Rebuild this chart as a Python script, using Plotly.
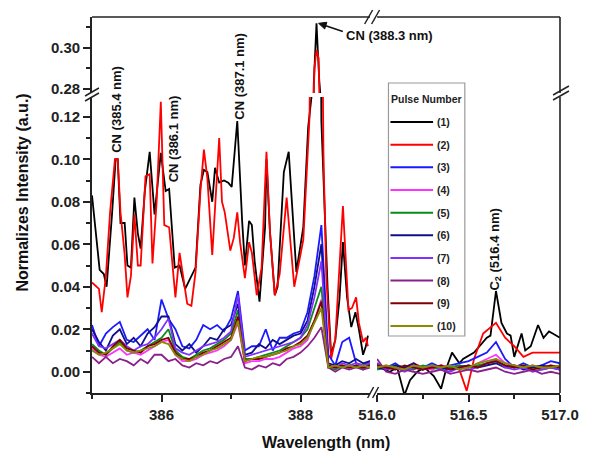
import plotly.graph_objects as go

FONT = "Arial, 'Liberation Sans', sans-serif"

pulse_labels = ["(1)", "(2)", "(3)", "(4)", "(5)", "(6)", "(7)", "(8)", "(9)", "(10)"]
line_colors = ["#000000", "#ff0000", "#1a1aff", "#ff33ff", "#0a8a1a",
               "#10108a", "#8030ff", "#8a208a", "#800000", "#8a8a00"]

# ---------------- pulse 1 and 2 (left segment, CN band) ----------------
wl_p1_left = [385.00, 385.07, 385.11, 385.17, 385.21, 385.29, 385.34, 385.37, 385.41, 385.47,
              385.51, 385.56, 385.61, 385.66, 385.70, 385.76, 385.83, 385.90, 385.99, 386.06,
              386.11, 386.19, 386.26, 386.34, 386.43, 386.49, 386.56, 386.61, 386.66, 386.73,
              386.77, 386.83, 386.90, 386.96, 387.01, 387.09, 387.16, 387.20, 387.26, 387.30,
              387.34, 387.41, 387.49, 387.51, 387.56, 387.63, 387.67, 387.76, 387.83, 387.94,
              388.04, 388.11, 388.16, 388.19, 388.23, 388.27, 388.30, 388.34, 388.39, 388.44,
              388.50, 388.56, 388.61, 388.67, 388.73, 388.79, 388.84, 388.90, 388.94, 388.97]
int_p1_left = [0.083, 0.062, 0.048, 0.046, 0.040, 0.075, 0.100, 0.100, 0.070, 0.070,
               0.050, 0.049, 0.082, 0.065, 0.058, 0.085, 0.1035, 0.074, 0.103, 0.085,
               0.086, 0.049, 0.050, 0.039, 0.045, 0.049, 0.088, 0.095, 0.094, 0.080,
               0.096, 0.089, 0.090, 0.089, 0.087, 0.118, 0.071, 0.050, 0.071, 0.069,
               0.052, 0.033, 0.068, 0.100, 0.066, 0.036, 0.040, 0.094, 0.1035, 0.047,
               0.068, 0.115, 0.130, 0.282, 0.312, 0.284, 0.118, 0.081, 0.039, 0.008,
               0.015, 0.034, 0.061, 0.035, 0.021, 0.028, 0.020, 0.008, 0.012, 0.017]

wl_p2_left = [385.00, 385.06, 385.10, 385.14, 385.20, 385.26, 385.33, 385.37, 385.41, 385.47,
              385.51, 385.56, 385.61, 385.66, 385.70, 385.77, 385.83, 385.87, 385.93, 385.99,
              386.04, 386.11, 386.20, 386.26, 386.33, 386.37, 386.43, 386.49, 386.56, 386.61,
              386.66, 386.73, 386.83, 386.87, 386.91, 386.99, 387.04, 387.09, 387.13, 387.20,
              387.26, 387.30, 387.37, 387.44, 387.51, 387.56, 387.63, 387.70, 387.80, 387.91,
              388.04, 388.13, 388.17, 388.20, 388.23, 388.26, 388.29, 388.33, 388.37, 388.44,
              388.50, 388.56, 388.61, 388.69, 388.74, 388.80, 388.84, 388.90, 388.94, 388.97]
int_p2_left = [0.042, 0.040, 0.039, 0.028, 0.045, 0.075, 0.100, 0.100, 0.075, 0.055,
               0.035, 0.045, 0.074, 0.050, 0.050, 0.092, 0.093, 0.051, 0.080, 0.127,
               0.069, 0.068, 0.035, 0.056, 0.042, 0.032, 0.031, 0.047, 0.085, 0.1045,
               0.091, 0.055, 0.110, 0.080, 0.075, 0.057, 0.063, 0.075, 0.061, 0.044,
               0.061, 0.056, 0.036, 0.049, 0.1035, 0.066, 0.036, 0.046, 0.082, 0.040,
               0.062, 0.120, 0.250, 0.290, 0.299, 0.295, 0.250, 0.103, 0.045, 0.006,
               0.015, 0.050, 0.078, 0.029, 0.030, 0.035, 0.023, 0.014, 0.016, 0.012]

# ---------------- pulse 1 and 2 (right segment, C2 band) ----------------
wl_p1_right = [516.00, 516.04, 516.07, 516.11, 516.15, 516.18, 516.22, 516.26, 516.31, 516.35,
               516.38, 516.41, 516.45, 516.47, 516.53, 516.56, 516.60, 516.62, 516.65, 516.68,
               516.71, 516.73, 516.75, 516.79, 516.81, 516.84, 516.88, 516.91, 516.94, 516.96,
               517.00]
int_p1_right = [0.004, 0.001, 0.000, 0.002, -0.011, -0.004, 0.000, 0.002, -0.002, -0.008,
                0.002, 0.009, 0.004, 0.006, 0.009, 0.012, 0.016, 0.017, 0.038, 0.023,
                0.018, 0.017, 0.007, 0.018, 0.010, 0.012, 0.022, 0.016, 0.019, 0.018,
                0.016]

wl_p2_right = [516.00, 516.05, 516.10, 516.15, 516.20, 516.25, 516.30, 516.35, 516.40, 516.45,
               516.49, 516.53, 516.58, 516.65, 516.70, 516.75, 516.80, 516.85, 516.90, 516.95,
               517.00]
int_p2_right = [0.003, 0.001, 0.003, 0.002, 0.004, 0.002, 0.001, 0.003, 0.002, 0.001,
                -0.009, 0.006, 0.018, 0.023, 0.016, 0.012, 0.007, 0.009, 0.009, 0.009,
                0.009]

# ---------------- pulses 3-10 ----------------
wl_grid_left = [385.0, 385.1, 385.2, 385.3, 385.4, 385.5, 385.6, 385.7, 385.8, 385.9,
                386.0, 386.1, 386.2, 386.3, 386.4, 386.5, 386.6, 386.7, 386.8, 386.9,
                387.0, 387.1, 387.2, 387.3, 387.4, 387.5, 387.6, 387.7, 387.8, 387.9,
                388.0, 388.1, 388.2, 388.3, 388.4, 388.5, 388.6, 388.7, 388.8, 388.9,
                389.0]
int_p3_left = [0.022, 0.012, 0.018, 0.021, 0.0235, 0.015, 0.014, 0.017, 0.020, 0.015,
               0.034, 0.025, 0.020, 0.012, 0.011, 0.015, 0.022, 0.020, 0.022, 0.019,
               0.025, 0.038, 0.010, 0.012, 0.012, 0.020, 0.010, 0.016, 0.016, 0.018,
               0.019, 0.028, 0.045, 0.069, 0.008, 0.003, 0.014, 0.016, 0.004, 0.003,
               0.005]
int_p4_left = [0.011, 0.008, 0.007, 0.009, 0.011, 0.008, 0.009, 0.008, 0.010, 0.012,
               0.014, 0.015, 0.008, 0.005, 0.005, 0.006, 0.008, 0.009, 0.010, 0.012,
               0.015, 0.023, 0.004, 0.005, 0.005, 0.006, 0.006, 0.007, 0.009, 0.011,
               0.012, 0.015, 0.024, 0.034, 0.002, 0.002, 0.003, 0.002, 0.003, 0.002,
               0.003]
int_p5_left = [0.013, 0.010, 0.008, 0.011, 0.014, 0.010, 0.009, 0.010, 0.012, 0.014,
               0.016, 0.020, 0.010, 0.007, 0.006, 0.008, 0.010, 0.011, 0.013, 0.015,
               0.018, 0.029, 0.006, 0.006, 0.007, 0.008, 0.009, 0.010, 0.012, 0.014,
               0.016, 0.020, 0.030, 0.040, 0.002, 0.001, 0.003, 0.002, 0.003, 0.001,
               0.004]
int_p6_left = [0.020, 0.014, 0.010, 0.017, 0.020, 0.013, 0.016, 0.012, 0.018, 0.021,
               0.026, 0.026, 0.013, 0.010, 0.013, 0.009, 0.012, 0.016, 0.015, 0.020,
               0.022, 0.032, 0.008, 0.009, 0.013, 0.011, 0.015, 0.013, 0.015, 0.017,
               0.018, 0.024, 0.040, 0.060, 0.004, 0.003, 0.005, 0.004, 0.006, 0.004,
               0.005]
int_p7_left = [0.018, 0.012, 0.011, 0.013, 0.015, 0.012, 0.010, 0.012, 0.013, 0.016,
               0.020, 0.025, 0.011, 0.009, 0.008, 0.010, 0.012, 0.013, 0.014, 0.016,
               0.019, 0.036, 0.007, 0.008, 0.009, 0.010, 0.011, 0.012, 0.013, 0.014,
               0.016, 0.022, 0.035, 0.052, 0.003, 0.002, 0.004, 0.003, 0.004, 0.003,
               0.004]
int_p8_left = [0.007, 0.004, 0.007, 0.004, 0.006, 0.005, 0.003, 0.006, 0.004, 0.008,
               0.008, 0.005, 0.006, 0.003, 0.002, 0.004, 0.003, 0.005, 0.004, 0.006,
               0.007, 0.012, 0.002, 0.001, 0.003, 0.002, 0.004, 0.003, 0.006, 0.007,
               0.009, 0.012, 0.016, 0.021, 0.002, 0.000, 0.002, 0.001, 0.002, 0.001,
               0.002]
int_p9_left = [0.012, 0.009, 0.008, 0.012, 0.015, 0.011, 0.010, 0.009, 0.012, 0.013,
               0.015, 0.016, 0.009, 0.006, 0.006, 0.007, 0.009, 0.010, 0.012, 0.014,
               0.016, 0.026, 0.005, 0.006, 0.006, 0.007, 0.008, 0.009, 0.011, 0.012,
               0.014, 0.017, 0.024, 0.033, 0.003, 0.002, 0.003, 0.002, 0.003, 0.002,
               0.003]
int_p10_left = [0.010, 0.008, 0.009, 0.011, 0.013, 0.010, 0.009, 0.010, 0.011, 0.012,
                0.014, 0.013, 0.008, 0.006, 0.005, 0.007, 0.008, 0.010, 0.011, 0.013,
                0.015, 0.024, 0.005, 0.006, 0.007, 0.007, 0.008, 0.009, 0.010, 0.012,
                0.013, 0.016, 0.023, 0.030, 0.002, 0.003, 0.002, 0.003, 0.002, 0.003,
                0.002]

wl_grid_right = [516.00, 516.05, 516.10, 516.15, 516.20, 516.25, 516.30, 516.35, 516.40, 516.45,
                 516.50, 516.55, 516.60, 516.65, 516.70, 516.75, 516.80, 516.85, 516.90, 516.95,
                 517.00]
int_p3_right = [0.003, 0.002, 0.004, 0.001, 0.003, 0.002, 0.004, 0.002, 0.003, 0.004,
                0.005, 0.007, 0.009, 0.014, 0.006, 0.002, 0.004, 0.002, 0.003, 0.005, 0.004]
int_p4_right = [0.002, 0.003, 0.001, 0.002, 0.003, 0.002, 0.001, 0.003, 0.002, 0.003,
                0.002, 0.004, 0.006, 0.008, 0.004, 0.003, 0.002, 0.003, 0.002, 0.003, 0.002]
int_p5_right = [0.001, 0.002, 0.003, 0.002, 0.001, 0.003, 0.002, 0.001, 0.002, 0.003,
                0.002, 0.003, 0.004, 0.005, 0.003, 0.002, 0.003, 0.002, 0.001, 0.002, 0.003]
int_p6_right = [0.002, 0.001, 0.003, 0.002, 0.004, 0.001, 0.003, 0.002, 0.001, 0.002,
                0.003, 0.002, 0.003, 0.004, 0.002, 0.003, 0.001, 0.002, 0.003, 0.002, 0.001]
int_p7_right = [0.004, 0.001, 0.002, 0.000, 0.002, 0.001, 0.003, 0.001, 0.000, 0.002,
                0.001, 0.002, 0.004, 0.006, 0.002, 0.001, 0.002, 0.000, 0.001, 0.002, 0.001]
int_p8_right = [0.006, 0.000, -0.001, 0.001, 0.000, -0.001, 0.000, 0.001, -0.001, 0.000,
                0.001, 0.000, 0.001, 0.002, 0.000, -0.001, 0.000, 0.001, -0.001, 0.000, -0.001]
int_p9_right = [0.003, 0.002, 0.001, 0.003, 0.002, 0.001, 0.002, 0.003, 0.001, 0.002,
                0.003, 0.002, 0.004, 0.005, 0.003, 0.002, 0.003, 0.001, 0.002, 0.003, 0.002]
int_p10_right = [0.002, 0.003, 0.002, 0.001, 0.003, 0.002, 0.003, 0.002, 0.003, 0.001,
                 0.002, 0.004, 0.005, 0.006, 0.004, 0.003, 0.002, 0.003, 0.002, 0.002, 0.003]

left_x = [wl_p1_left, wl_p2_left] + [wl_grid_left] * 8
left_y = [int_p1_left, int_p2_left, int_p3_left, int_p4_left, int_p5_left,
          int_p6_left, int_p7_left, int_p8_left, int_p9_left, int_p10_left]
right_x = [wl_p1_right, wl_p2_right] + [wl_grid_right] * 8
right_y = [int_p1_right, int_p2_right, int_p3_right, int_p4_right, int_p5_right,
           int_p6_right, int_p7_right, int_p8_right, int_p9_right, int_p10_right]

# ---------------- geometry (pixel -> paper helpers) ----------------
W, H = 591, 454
ML, MR, MT, MB = 92, 27, 17, 61
PW, PH = W - ML - MR, H - MT - MB


def px(x):
    return (x - ML) / PW


def py(y):
    return (H - MB - y) / PH


x_left_dom = [0, px(372.4)]
x_right_dom = [px(379.5), 1]
y_low_dom = [0, py(97)]
y_up_dom = [py(93), 1]

fig = go.Figure()
for i in range(10):
    fig.add_trace(go.Scatter(x=left_x[i], y=left_y[i], mode="lines", name=pulse_labels[i],
                             line=dict(color=line_colors[i], width=1.8),
                             xaxis="x", yaxis="y", showlegend=False, hoverinfo="skip"))
    if max(left_y[i]) > 0.2:
        fig.add_trace(go.Scatter(x=left_x[i], y=left_y[i], mode="lines", name=pulse_labels[i],
                                 line=dict(color=line_colors[i], width=1.8),
                                 xaxis="x", yaxis="y2", showlegend=False, hoverinfo="skip"))
    fig.add_trace(go.Scatter(x=right_x[i], y=right_y[i], mode="lines", name=pulse_labels[i],
                             line=dict(color=line_colors[i], width=1.8),
                             xaxis="x2", yaxis="y", showlegend=False, hoverinfo="skip"))

AX = "#222222"
tickfont = dict(family=FONT, size=15, color=AX, weight="bold")
common = dict(showline=True, linecolor=AX, linewidth=1.6, ticks="outside", ticklen=7,
              tickwidth=1.5, tickcolor=AX, showgrid=False, zeroline=False, tickfont=tickfont)

fig.update_layout(
    width=W, height=H, margin=dict(l=ML, r=MR, t=MT, b=MB),
    paper_bgcolor="white", plot_bgcolor="white", showlegend=False,
    xaxis=dict(domain=x_left_dom, anchor="y", range=[385.0, 389.0], tick0=386, dtick=2,
               minor=dict(tickvals=[385, 387], ticklen=4, tickcolor=AX, tickwidth=1.5, ticks="outside"),
               **common),
    xaxis2=dict(domain=x_right_dom, anchor="y", range=[516.0, 517.0], tick0=516, dtick=0.5,
                tickformat=".1f",
                minor=dict(dtick=0.25, ticklen=4, tickcolor=AX, tickwidth=1.5, ticks="outside"),
                **common),
    yaxis=dict(domain=y_low_dom, anchor="x", range=[-0.01, 0.1293], tick0=0, dtick=0.02,
               tickformat=".2f",
               minor=dict(dtick=0.01, ticklen=4, tickcolor=AX, tickwidth=1.5, ticks="outside"),
               **common),
    yaxis2=dict(domain=y_up_dom, anchor="x", range=[0.278, 0.3151], tick0=0.28, dtick=0.02,
                tickformat=".2f",
                minor=dict(dtick=0.01, ticklen=4, tickcolor=AX, tickwidth=1.5, ticks="outside"),
                **common),
)

shapes = []
# frame: top and right sides (broken)
frame_segments = [
    (0, 1, px(372.4), 1), (px(379.5), 1, 1, 1),
    (1, 0, 1, py(97)), (1, py(93), 1, 1),
]
for x0, y0, x1, y1 in frame_segments:
    shapes.append(dict(type="line", xref="paper", yref="paper", x0=x0, y0=y0, x1=x1, y1=y1,
                       line=dict(color=AX, width=1.6)))
# break marks
break_marks = [
    ((370, 398), (376, 387)), ((375, 398), (381, 387)),   # bottom
    ((367, 24), (375, 10)), ((374, 24), (382, 10)),       # top
    ((85, 96), (99, 88)), ((85, 101), (99, 93)),          # left
    ((557, 95), (573, 86)), ((557, 100), (573, 91)),      # right
]
for (ax0, ay0), (ax1, ay1) in break_marks:
    shapes.append(dict(type="line", xref="paper", yref="paper", x0=px(ax0), y0=py(ay0),
                       x1=px(ax1), y1=py(ay1), line=dict(color=AX, width=1.5)))

# arrow pointing at the 388.3 nm peak (line + filled head)
shapes.append(dict(type="line", xref="paper", yref="paper", x0=px(345), y0=py(31.5),
                   x1=px(327), y1=py(25.5), line=dict(color="#111111", width=1.6)))
head = [(320.5, 23.3), (328.9, 22.3), (326.7, 29.0)]
head_path = "M " + " L ".join(f"{px(hx):.5f},{py(hy):.5f}" for hx, hy in head) + " Z"
shapes.append(dict(type="path", xref="paper", yref="paper", path=head_path,
                   fillcolor="#111111", line=dict(color="#111111", width=1)))

# manual legend
leg_x0, leg_x1, leg_y0, leg_y1 = 391, 468, 83, 336
shapes.append(dict(type="rect", xref="paper", yref="paper", x0=px(leg_x0), x1=px(leg_x1),
                   y0=py(leg_y1), y1=py(leg_y0), line=dict(color="#9a9a9a", width=1.2),
                   fillcolor="white", layer="above"))
annotations = []
annotations.append(dict(x=px(429.5), y=py(99), xref="paper", yref="paper", text="Pulse Number",
                        showarrow=False, font=dict(family=FONT, size=10.5, color=AX, weight="bold"),
                        xanchor="center", yanchor="middle"))
row0, row_step = 122, 22.66
for i in range(10):
    ry = row0 + i * row_step
    shapes.append(dict(type="line", xref="paper", yref="paper", x0=px(393), x1=px(436),
                       y0=py(ry), y1=py(ry), line=dict(color=line_colors[i], width=2),
                       layer="above"))
    annotations.append(dict(x=px(438), y=py(ry), xref="paper", yref="paper", text=pulse_labels[i],
                            showarrow=False, xanchor="left", yanchor="middle",
                            font=dict(family=FONT, size=10.5, color=AX, weight="bold")))

lab_font = dict(family=FONT, size=13, color="#111111", weight="bold")
peak_labels = [
    ("CN (385.4 nm)", 117, 109, -90),
    ("CN (386.1 nm)", 174, 139, -90),
    ("CN (387.1 nm)", 240, 76, -90),
    ("CN (388.3 nm)", 392, 36, 0),
    ("C<sub>2</sub> (516.4 nm)", 498, 250, -90),
]
for txt, lx, ly, ang in peak_labels:
    annotations.append(dict(x=px(lx), y=py(ly), xref="paper", yref="paper", text=txt,
                            textangle=ang, showarrow=False, font=lab_font,
                            xanchor="center", yanchor="middle"))
# axis titles
title_font = dict(family=FONT, size=16, color="#111111", weight="bold")
annotations.append(dict(x=px(328), y=py(442), xref="paper", yref="paper", text="Wavelength (nm)",
                        showarrow=False, font=title_font, xanchor="center", yanchor="middle"))
annotations.append(dict(x=px(21), y=py(193), xref="paper", yref="paper",
                        text="Normalizes Intensity (a.u.)", textangle=-90,
                        showarrow=False, font=title_font, xanchor="center", yanchor="middle"))

fig.update_layout(shapes=shapes, annotations=annotations)
fig.write_html("out.html")
